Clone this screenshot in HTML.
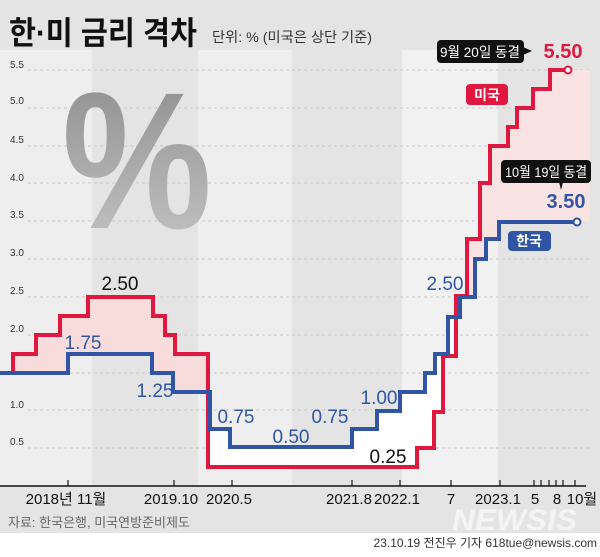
<!DOCTYPE html>
<html><head><meta charset="utf-8"><style>
html,body{margin:0;padding:0;}
body{width:600px;height:552px;overflow:hidden;background:#fff;font-family:"Liberation Sans","Noto Sans CJK KR",sans-serif;}
</style></head><body>
<svg width="600" height="552" viewBox="0 0 600 552" xmlns="http://www.w3.org/2000/svg" font-family="'Liberation Sans','Noto Sans CJK KR',sans-serif">
<defs>
<linearGradient id="pg" x1="0" y1="0" x2="0" y2="1"><stop offset="0" stop-color="#8a8a8a"/><stop offset="1" stop-color="#c8c8c8"/></linearGradient>
</defs>
<rect x="0" y="0" width="600" height="533" fill="#e4e4e4"/>
<rect x="0" y="50" width="92" height="436" fill="#eeeeee"/>
<rect x="198" y="50" width="94" height="436" fill="#eeeeee"/>
<rect x="402" y="50" width="96" height="436" fill="#f1f1f1"/>
<g stroke="#c8c8c8" stroke-dasharray="3,3" stroke-width="1">
<line x1="28" x2="590" y1="70" y2="70"/><line x1="28" x2="590" y1="108" y2="108"/>
<line x1="28" x2="590" y1="146" y2="146"/><line x1="28" x2="590" y1="183" y2="183"/>
<line x1="28" x2="590" y1="221" y2="221"/><line x1="28" x2="590" y1="259" y2="259"/>
<line x1="28" x2="590" y1="297" y2="297"/><line x1="28" x2="590" y1="335" y2="335"/>
<line x1="28" x2="590" y1="373" y2="373"/><line x1="28" x2="590" y1="410" y2="410"/>
<line x1="28" x2="590" y1="448" y2="448"/>
</g>
<g font-size="10" fill="#333">
<text x="10" y="68">5.5</text><text x="10" y="104">5.0</text><text x="10" y="143">4.5</text>
<text x="10" y="181">4.0</text><text x="10" y="218">3.5</text><text x="10" y="256">3.0</text>
<text x="10" y="294">2.5</text><text x="10" y="332">2.0</text><text x="10" y="408">1.0</text>
<text x="10" y="445">0.5</text>
</g>
<text x="62" y="228" font-size="195" font-weight="bold" fill="url(#pg)" textLength="150" lengthAdjust="spacingAndGlyphs">%</text>
<path d="M13,373 V354 H36 V335 H60 V316 H88 V297 H153 V316 H165 V335 H175 V354 H208 V392 H173 V373 H152 V354 H68 V373 Z" fill="#f8dcdc"/>
<path d="M467,297 V239 H480 V183 H490 V146 H508 V127 H517 V108 H533 V89 H550 V70 H590 V222 H499 V239 H486 V259 H475 V297 Z" fill="#f8e2e2"/>
<path d="M208,429 H230 V447 H352 V429 H377 V411 H400 V392 H425 V373 H435 V354 H448 V317 H460 V297 H467 V296 H456 V356 H443 V412 H434 V448 H417 V467 H208 Z" fill="#ffffff"/>
<path d="M13,373 V354 H36 V335 H60 V316 H88 V297 H153 V316 H165 V335 H175 V354 H208 V467 H417 V448 H434 V412 H443 V356 H456 V296 H467 V239 H480 V183 H490 V146 H508 V127 H517 V108 H533 V89 H550 V70 H565" fill="none" stroke="#e0173f" stroke-width="4"/>
<path d="M0,373 H68 V354 H152 V373 H173 V392 H210 V429 H230 V447 H352 V429 H377 V411 H400 V392 H425 V373 H435 V354 H448 V317 H460 V297 H475 V259 H486 V239 H499 V222 H574" fill="none" stroke="#2f55a4" stroke-width="4"/>
<circle cx="568" cy="70" r="3.5" fill="#fff" stroke="#e0173f" stroke-width="2"/>
<circle cx="577" cy="222" r="3.5" fill="#fff" stroke="#2f55a4" stroke-width="2"/>
<g font-size="19" text-anchor="middle">
<text x="120" y="290" fill="#111">2.50</text>
<text x="83" y="349" fill="#2f55a4">1.75</text>
<text x="155" y="397" fill="#2f55a4">1.25</text>
<text x="236" y="423" fill="#2f55a4">0.75</text>
<text x="291" y="443" fill="#2f55a4">0.50</text>
<text x="330" y="423" fill="#2f55a4">0.75</text>
<text x="379" y="404" fill="#2f55a4">1.00</text>
<text x="388" y="463" fill="#111">0.25</text>
<text x="445" y="290" fill="#2f55a4">2.50</text>
</g>
<text x="563" y="58" font-size="20" font-weight="bold" fill="#e0173f" text-anchor="middle">5.50</text>
<text x="566" y="208" font-size="20" font-weight="bold" fill="#2f55a4" text-anchor="middle">3.50</text>
<rect x="437" y="40" width="87" height="23" rx="4" fill="#111"/>
<path d="M523,47 L532,51 L523,55 Z" fill="#111"/>
<text x="480" y="57" font-size="14" fill="#fff" text-anchor="middle" textLength="80" lengthAdjust="spacingAndGlyphs">9월 20일 동결</text>
<rect x="466" y="84" width="42" height="21" rx="4" fill="#e0173f"/>
<text x="487" y="100" font-size="14" font-weight="bold" fill="#fff" text-anchor="middle">미국</text>
<rect x="501" y="160" width="90" height="23" rx="4" fill="#111"/>
<path d="M559,182 L561,190 L563,182 Z" fill="#111"/>
<text x="546" y="177" font-size="14" fill="#fff" text-anchor="middle" textLength="82" lengthAdjust="spacingAndGlyphs">10월 19일 동결</text>
<rect x="508" y="231" width="43" height="20" rx="4" fill="#2f55a4"/>
<text x="529" y="246" font-size="14" font-weight="bold" fill="#fff" text-anchor="middle">한국</text>
<line x1="0" x2="586" y1="486" y2="486" stroke="#111" stroke-width="1.5"/>
<g stroke="#111" stroke-width="1.2">
<line x1="68" x2="68" y1="480" y2="486"/><line x1="174" x2="174" y1="480" y2="486"/>
<line x1="232" x2="232" y1="480" y2="486"/><line x1="352" x2="352" y1="480" y2="486"/>
<line x1="400" x2="400" y1="480" y2="486"/><line x1="451" x2="451" y1="480" y2="486"/>
<line x1="500" x2="500" y1="480" y2="486"/><line x1="534" x2="534" y1="480" y2="486"/>
<line x1="541" x2="541" y1="480" y2="486"/><line x1="549" x2="549" y1="480" y2="486"/>
<line x1="556" x2="556" y1="480" y2="486"/><line x1="563" x2="563" y1="480" y2="486"/>
<line x1="575" x2="575" y1="480" y2="486"/>
</g>
<g font-size="15" fill="#111" text-anchor="middle">
<text x="66" y="504">2018년 11월</text>
<text x="171" y="504">2019.10</text>
<text x="229" y="504">2020.5</text>
<text x="349" y="504">2021.8</text>
<text x="397" y="504">2022.1</text>
<text x="451" y="504">7</text>
<text x="498" y="504">2023.1</text>
<text x="535" y="504">5</text>
<text x="557" y="504">8</text>
<text x="582" y="504">10월</text>
</g>
<text x="8" y="527" font-size="13" fill="#666">자료: 한국은행, 미국연방준비제도</text>
<text x="452" y="530" font-size="30" font-weight="bold" font-style="italic" fill="#f4f4f4" textLength="125" lengthAdjust="spacingAndGlyphs">NEWSIS</text>
<text x="597" y="547" font-size="12" fill="#333" text-anchor="end">23.10.19 전진우 기자 618tue@newsis.com</text>
<text x="9" y="44" font-size="32" font-weight="bold" fill="#111" textLength="188" lengthAdjust="spacingAndGlyphs">한·미 금리 격차</text>
<text x="212" y="42" font-size="14" fill="#333" textLength="160" lengthAdjust="spacingAndGlyphs">단위: % (미국은 상단 기준)</text>
</svg>
</body></html>
